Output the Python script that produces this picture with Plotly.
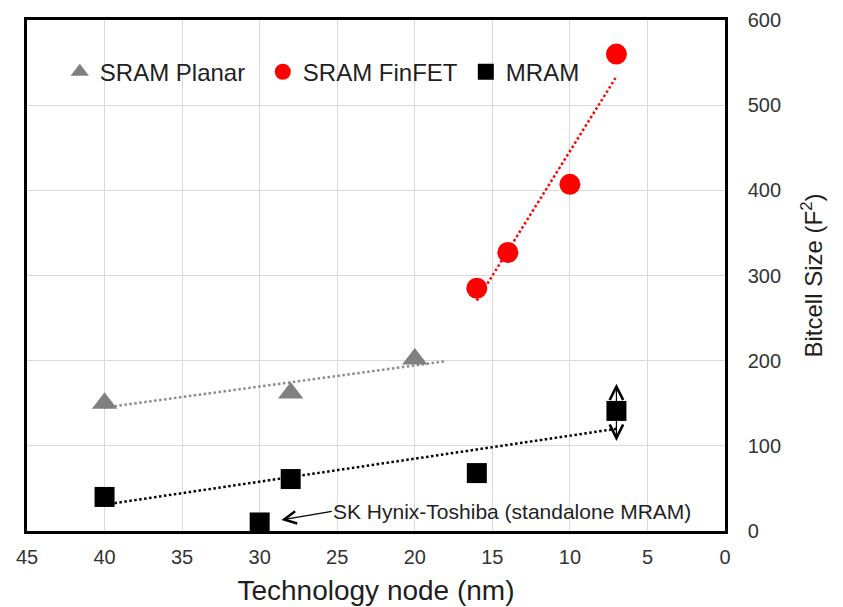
import numpy as np
import plotly.graph_objects as go

# Technology node (nm) and bitcell size (F^2) per memory type
planar_node = [40, 28, 20]
planar_size = [150, 162, 202]

finfet_node = [16, 14, 10, 7]
finfet_size = [285, 327, 407, 560]

mram_node = [40, 28, 16, 7]
mram_size = [40, 61, 68, 141]

# Standalone MRAM data point (not part of the trend)
hynix_node = [30]
hynix_size = [10]
hynix_label = "SK Hynix-Toshiba (standalone MRAM)"

# Uncertainty range shown for the 7 nm MRAM bitcell
mram_range_node = 7
mram_range_low = 104
mram_range_high = 173

# Extent of each linear trendline (nm)
planar_fit_span = [40, 18]
finfet_fit_span = [16, 7]
mram_fit_span = [40, 7]

FONT = "Liberation Sans, Arial, sans-serif"
TXT = "#1f1f1f"


def trend(xs, ys, span):
    k, b = np.polyfit(xs, ys, 1)
    xx = np.array(span, dtype=float)
    return xx, k * xx + b


fig = go.Figure()

for xs, ys, span, col in [
    (planar_node, planar_size, planar_fit_span, "#8c8c8c"),
    (finfet_node, finfet_size, finfet_fit_span, "#ff0000"),
    (mram_node, mram_size, mram_fit_span, "#000000"),
]:
    tx, ty = trend(xs, ys, span)
    fig.add_trace(go.Scatter(
        x=tx, y=ty, mode="lines", showlegend=False, hoverinfo="skip",
        line=dict(color=col, width=2.5, dash="2.5px,2.5px"),
    ))

fig.add_trace(go.Scatter(
    x=planar_node, y=planar_size, mode="markers", name="SRAM Planar",
    marker=dict(symbol="triangle-up", size=22, color="#808080"),
))
fig.add_trace(go.Scatter(
    x=finfet_node, y=finfet_size, mode="markers", name="SRAM FinFET",
    marker=dict(symbol="circle", size=21, color="#ff0000"),
))
fig.add_trace(go.Scatter(
    x=mram_node, y=mram_size, mode="markers", name="MRAM",
    marker=dict(symbol="square", size=20, color="#000000"),
))
fig.add_trace(go.Scatter(
    x=hynix_node, y=hynix_size, mode="markers", showlegend=False,
    marker=dict(symbol="square", size=20, color="#000000"),
))

# Double-headed range arrow on the 7 nm MRAM point
fig.add_annotation(
    x=mram_range_node, y=mram_range_high, ax=mram_range_node, ay=mram_range_low,
    xref="x", yref="y", axref="x", ayref="y", text="",
    showarrow=True, arrowside="end+start", arrowhead=5, arrowsize=2.2,
    arrowwidth=1.2, arrowcolor="#000000",
)

# Callout for the standalone MRAM point: text box starts at the arrow tail
fig.add_annotation(
    x=hynix_node[0] - 1.4, y=hynix_size[0] + 3, ax=25.35, ay=23,
    xref="x", yref="y", axref="x", ayref="y", text=hynix_label,
    xanchor="left", yanchor="middle", borderpad=0,
    showarrow=True, arrowhead=5, arrowsize=2.2, arrowwidth=1.1,
    arrowcolor="#000000",
    font=dict(family=FONT, size=21, color=TXT),
)

fig.update_layout(
    width=843, height=607,
    margin=dict(l=27, r=118, t=20, b=76),
    paper_bgcolor="white", plot_bgcolor="white",
    font=dict(family=FONT, color=TXT),
    legend=dict(
        orientation="h", x=0.047, y=0.898, xanchor="left", yanchor="middle",
        font=dict(family=FONT, size=24, color=TXT),
        bgcolor="rgba(0,0,0,0)", entrywidth=158, entrywidthmode="pixels",
    ),
    xaxis=dict(
        range=[45, 0], dtick=5, tick0=0, showgrid=True, gridcolor="#d9d9d9",
        gridwidth=1, zeroline=False, showline=True, linecolor="#000000",
        linewidth=2.5, mirror=True, ticks="", automargin=False,
        tickfont=dict(family=FONT, size=20, color="#333333"),
        ticklabelstandoff=6,
        title=dict(text="Technology node (nm)", standoff=14,
                   font=dict(family=FONT, size=28, color=TXT)),
    ),
    yaxis=dict(
        range=[0, 600], dtick=100, side="right", showgrid=True,
        gridcolor="#d9d9d9", gridwidth=1, zeroline=False, showline=True,
        linecolor="#000000", linewidth=2.5, mirror=True, ticks="",
        automargin=False,
        tickfont=dict(family=FONT, size=20, color="#333333"),
        ticklabelstandoff=16,
        title=dict(text="Bitcell Size (F<sup>2</sup>)", standoff=26,
                   font=dict(family=FONT, size=24, color=TXT)),
    ),
)

fig.write_html("out.html")
